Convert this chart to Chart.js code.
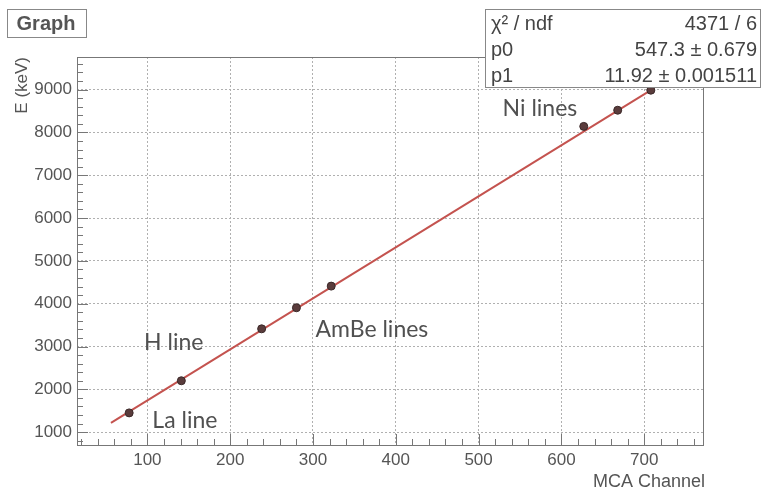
<!DOCTYPE html>
<html>
<head>
<meta charset="utf-8">
<script src="https://cdn.jsdelivr.net/npm/chart.js@4"></script>
<style>
  body { margin: 0; background: #fff; }
  canvas { display: block; }
</style>
</head>
<body>
<canvas id="myChart" width="769" height="489"></canvas>
<script>
// calibration points
const channels = [78, 141, 238, 280, 322, 627, 668, 708];
const energies = [1450, 2200, 3413, 3905, 4410, 8140, 8517, 8985];

// fitted line, end points
const fitX = [56, 712];
const fitE = [1215, 9034];

const xTicks = [100, 200, 300, 400, 500, 600, 700];
const yTicks = [1000, 2000, 3000, 4000, 5000, 6000, 7000, 8000, 9000];

const noteText = ['La line', 'H line', 'AmBe lines', 'Ni lines'];

const statNames = ['\u03C7\u00B2 / ndf', 'p0', 'p1'];
const statValues = ['4371 / 6', '547.3 \u00B1 0.679', '11.92 \u00B1 0.001511'];

const textGrey = '#555';
const helv = '"Liberation Sans", Arial, sans-serif';

const rootStuff = {
   id: 'rootStuff',
   afterDraw(chart) {
      const ctx = chart.ctx;
      const a = chart.chartArea;
      const xs = chart.scales.x, ys = chart.scales.y;
      ctx.save();

      // frame
      ctx.strokeStyle = '#777';
      ctx.lineWidth = 1;
      ctx.strokeRect(a.left + 0.5, a.top + 0.5, a.right - a.left, a.bottom - a.top);

      // ticks, pointing inward
      ctx.beginPath();
      for (let v = 20; v <= 760; v += 20) {
         const px = Math.round(xs.getPixelForValue(v)) + 0.5;
         const len = v % 100 === 0 ? 11 : 6;
         ctx.moveTo(px, a.bottom);
         ctx.lineTo(px, a.bottom - len);
      }
      for (let v = 800; v <= 9600; v += 200) {
         const py = Math.round(ys.getPixelForValue(v)) + 0.5;
         const len = v % 1000 === 0 ? 11 : 6;
         ctx.moveTo(a.left, py);
         ctx.lineTo(a.left + len, py);
      }
      ctx.stroke();

      // axis titles
      ctx.fillStyle = textGrey;
      ctx.font = '18px ' + helv;
      ctx.textAlign = 'right';
      ctx.textBaseline = 'middle';
      ctx.fillText('MCA Channel', a.right + 2, 482);
      ctx.save();
      ctx.translate(22, a.top);
      ctx.rotate(-Math.PI / 2);
      ctx.font = '17px ' + helv;
      ctx.textAlign = 'right';
      ctx.fillText('E (keV)', 0, 0);
      ctx.restore();

      // line labels
      const notePos = [[106, 1278], [96, 3088], [303, 3390], [529, 8564]];
      ctx.font = '23px Lato, "Open Sans", sans-serif';
      ctx.textAlign = 'left';
      ctx.fillStyle = '#505050';
      noteText.forEach((t, i) => {
         ctx.fillText(t, xs.getPixelForValue(notePos[i][0]), ys.getPixelForValue(notePos[i][1]));
      });

      // title box
      ctx.fillStyle = '#fff';
      ctx.fillRect(7, 9, 79, 28);
      ctx.strokeStyle = '#888';
      ctx.strokeRect(7.5, 9.5, 79, 28);
      ctx.fillStyle = textGrey;
      ctx.font = 'bold 20px ' + helv;
      ctx.textAlign = 'center';
      ctx.fillText('Graph', 46, 24);

      // stats box
      ctx.fillStyle = '#fff';
      ctx.fillRect(485, 9, 275, 78);
      ctx.strokeStyle = '#888';
      ctx.strokeRect(485.5, 9.5, 275, 78);
      ctx.fillStyle = '#444';
      ctx.font = '20px ' + helv;
      statNames.forEach((n, i) => {
         const y = 24 + i * 26;
         ctx.textAlign = 'left';
         ctx.fillText(n, 491, y);
         ctx.textAlign = 'right';
         ctx.fillText(statValues[i], 757, y);
      });

      ctx.restore();
   }
};

const data = {
   datasets: [{
      label: 'points',
      data: channels.map((c, i) => ({x: c, y: energies[i]})),
      showLine: false,
      pointRadius: 4,
      pointBackgroundColor: '#5a3c3c',
      pointBorderColor: '#3a2828',
      pointBorderWidth: 1
   }, {
      label: 'fit',
      data: fitX.map((c, i) => ({x: c, y: fitE[i]})),
      showLine: true,
      borderColor: '#c4534f',
      borderWidth: 2,
      pointRadius: 0
   }]
};

const config = {
   type: 'scatter',
   data: data,
   options: {
      responsive: false,
      animation: false,
      devicePixelRatio: 1,
      layout: { padding: {top: 57, right: 66, left: 0, bottom: 0} },
      plugins: { legend: {display: false}, tooltip: {enabled: false} },
      scales: {
         x: {
            type: 'linear',
            min: 15,
            max: 771,
            afterBuildTicks: s => { s.ticks = xTicks.map(v => ({value: v})); },
            afterFit: s => { s.height = 44; },
            border: { display: false, dash: [2, 2] },
            grid: { color: '#b0b0b0', drawTicks: false },
            ticks: {
               color: textGrey,
               font: {family: helv, size: 17},
               padding: 5,
               maxRotation: 0,
               autoSkip: false,
               callback: v => String(v)
            }
         },
         y: {
            type: 'linear',
            min: 700,
            max: 9760,
            afterBuildTicks: s => { s.ticks = yTicks.map(v => ({value: v})); },
            afterFit: s => { s.width = 77; },
            border: { display: false, dash: [2, 2] },
            grid: { color: '#b0b0b0', drawTicks: false },
            ticks: {
               color: textGrey,
               font: {family: helv, size: 17},
               padding: 5,
               autoSkip: false,
               callback: v => String(v)
            }
         }
      }
   },
   plugins: [rootStuff]
};

const myChart = new Chart(document.getElementById('myChart'), config);
</script>
</body>
</html>
